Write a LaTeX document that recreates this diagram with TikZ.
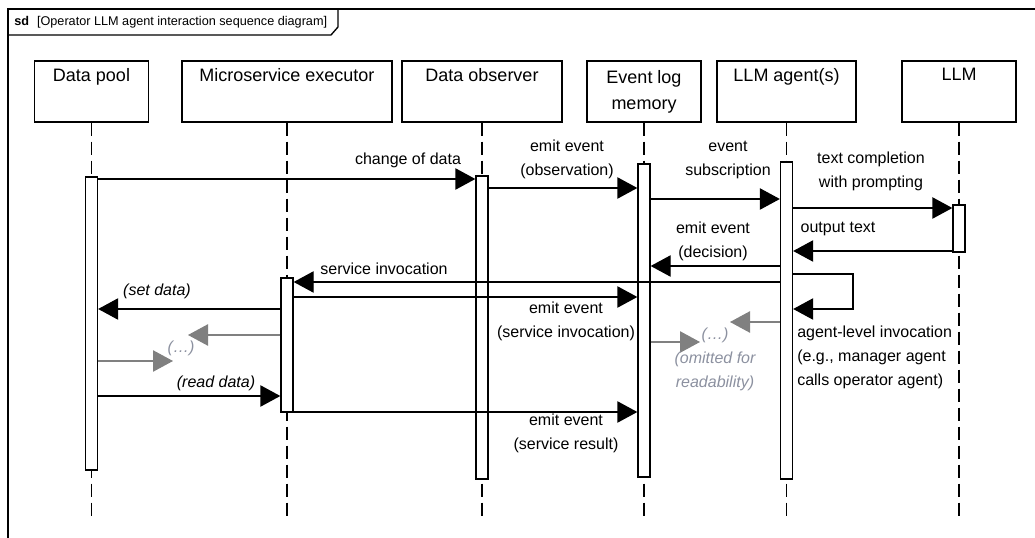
\documentclass[tikz,border=0pt]{standalone}
\usepackage{fontspec}
\setmainfont{Liberation Sans}
\usetikzlibrary{arrows.meta}

\definecolor{arrowgray}{RGB}{128,128,128}
\definecolor{textgray}{RGB}{140,145,160}
\newcommand{\msgfont}{\fontsize{12pt}{18pt}\selectfont}
\newcommand{\headfont}{\fontsize{13.5pt}{19.5pt}\selectfont}

\begin{document}
\begin{tikzpicture}[x=0.75pt, y=-0.75pt,
	head/.style={draw, line width=1pt, minimum height=45.75pt, align=center, font=\headfont, inner sep=0pt},
	act/.style={draw, fill=white, line width=1pt, minimum width=9pt, inner sep=0pt},
	life/.style={line width=1pt, dash pattern=on 9.75pt off 4.5pt},
	msg/.style={line width=1pt, -{Triangle[length=15pt,width=16pt]}},
	omsg/.style={msg, draw=arrowgray},
	lbl/.style={align=center, font=\msgfont, inner sep=0pt},
	olbl/.style={lbl, text=textgray, font=\msgfont\itshape}]
	\useasboundingbox (0,0) rectangle (1035,538);
	\fill[white] (0,0) rectangle (1035,538);
	\draw[line width=1pt] (8,538) -- (8,9) -- (1035,9);
	\draw[line width=1pt] (8,35) -- (331,35) -- (338,27) -- (338,9);
	\node[anchor=west, inner sep=0pt, font=\fontsize{9.5pt}{11pt}\selectfont] (sd) at (14,22) {\textbf{sd}\hspace{6pt}[Operator LLM agent interaction sequence diagram]};

	\node[head, minimum width=85.5pt] (pool) at (91.5,91.5) {Data pool\\\strut};
	\node[head, minimum width=157.5pt] (micro) at (287,91.5) {Microservice executor\\\strut};
	\node[head, minimum width=120pt] (obs) at (482,91.5) {Data observer\\\strut};
	\node[head, minimum width=85.5pt] (log) at (644,91.5) {Event log\\memory};
	\node[head, minimum width=104.25pt] (agent) at (786.5,91.5) {LLM agent(s)\\\strut};
	\node[head, minimum width=85.5pt] (llm) at (959,91.5) {LLM\\\strut};

	\coordinate (poolend) at (91.5,516);
	\coordinate (microend) at (287,516);
	\coordinate (obsend) at (482,516);
	\coordinate (logend) at (644,516);
	\coordinate (agentend) at (786.5,516);
	\coordinate (llmend) at (959,516);
	\draw[life] (pool) -- (poolend);
	\draw[life] (micro) -- (microend);
	\draw[life] (obs) -- (obsend);
	\draw[life] (log) -- (logend);
	\draw[life] (agent) -- (agentend);
	\draw[life] (llm) -- (llmend);

	\node[act, minimum height=219.75pt] (poolact) at (91.5,323.5) {};
	\node[act, minimum height=100.5pt] (microact) at (287,345) {};
	\node[act, minimum height=227.25pt] (obsact) at (482,327.5) {};
	\node[act, minimum height=234.75pt] (logact) at (644,320.5) {};
	\node[act, minimum height=237.75pt] (agentact) at (786.5,320.5) {};
	\node[act, minimum height=35.25pt] (llmact) at (959,228.5) {};

	\draw[msg] (poolact.east |- 0,179) -- (obsact.west |- 0,179);
	\node[lbl] (chg) at (408,160) {change of data};
	\draw[msg] (obsact.east |- 0,188) -- (logact.west |- 0,188);
	\node[lbl] (obsev) at (567,159.5) {emit event\\(observation)};
	\draw[msg] (logact.east |- 0,199) -- (agentact.west |- 0,199);
	\node[lbl] (sub) at (728,159.5) {event\\subscription};
	\draw[msg] (agentact.east |- 0,208) -- (llmact.west |- 0,208);
	\node[lbl] (prompt) at (871,171.5) {text completion\\with prompting};
	\draw[msg] (llmact.west |- 0,251) -- (agentact.east |- 0,251);
	\node[lbl] (out) at (838,229) {output text};
	\draw[msg] (agentact.west |- 0,266) -- (logact.east |- 0,266);
	\node[lbl] (dec) at (713,241) {emit event\\(decision)};
	\draw[msg] (agentact.east |- 0,274) -- (853,274) -- (853,309) -- (agentact.east |- 0,309);
	\node[lbl, anchor=west, align=left] (agl) at (797,357) {agent-level invocation\\(e.g., manager agent\\calls operator agent)};
	\draw[msg] (agentact.west |- 0,282) -- (microact.east |- 0,282);
	\node[lbl] (svc) at (384,269) {service invocation};
	\draw[msg] (microact.east |- 0,297) -- (logact.west |- 0,297);
	\node[lbl] (esi) at (566,321) {emit event\\(service invocation)};
	\draw[msg] (microact.west |- 0,309) -- (poolact.east |- 0,309);
	\node[lbl, font=\msgfont\itshape] (set) at (157,291) {(set data)};

	\coordinate (g1) at (188,335);
	\coordinate (g2) at (173,361);
	\coordinate (g3) at (700,342);
	\coordinate (g4) at (730,322);
	\draw[omsg] (microact.west |- 0,335) -- (g1);
	\draw[omsg] (poolact.east |- 0,361) -- (g2);
	\node[olbl] (dots) at (181,348) {(…)};
	\draw[omsg] (logact.east |- 0,342) -- (g3);
	\draw[omsg] (agentact.west |- 0,322) -- (g4);
	\node[olbl] (omit) at (715,359) {(…)\\(omitted for\\readability)};

	\draw[msg] (poolact.east |- 0,396) -- (microact.west |- 0,396);
	\node[lbl, font=\msgfont\itshape] (rd) at (216,383) {(read data)};
	\draw[msg] (microact.east |- 0,412) -- (logact.west |- 0,412);
	\node[lbl] (esr) at (566,433.5) {emit event\\(service result)};
\end{tikzpicture}
\end{document}
